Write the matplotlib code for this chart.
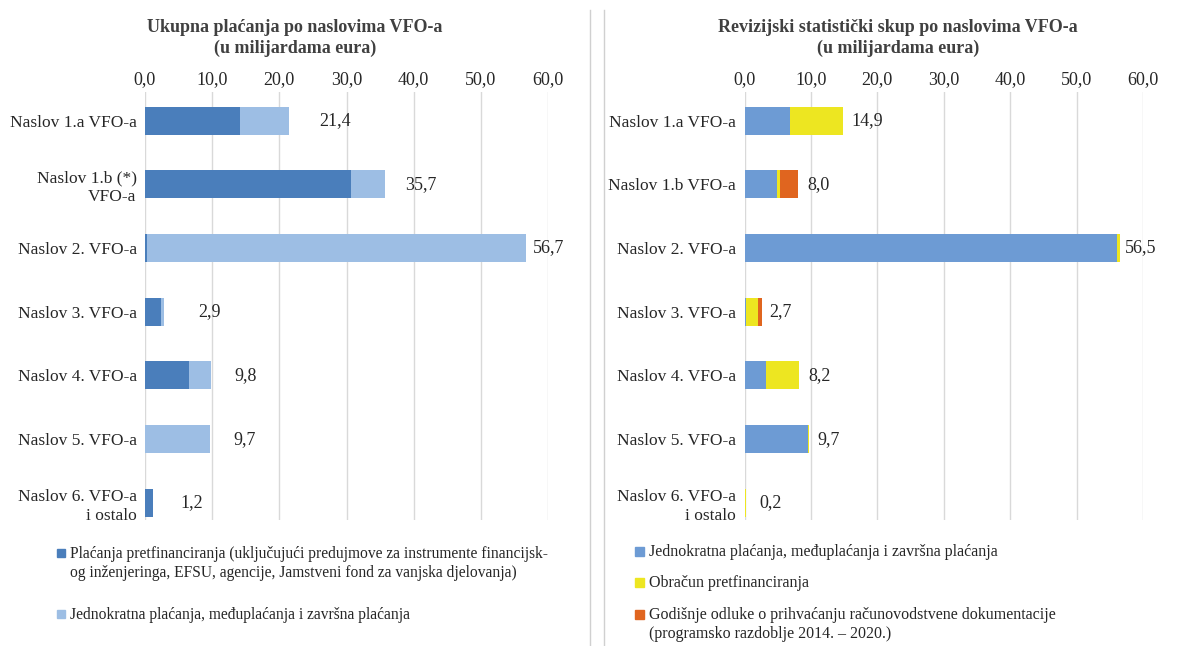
import numpy as np
import matplotlib.pyplot as plt
from matplotlib.lines import Line2D
from matplotlib.patches import Rectangle

plt.rcParams['font.family'] = ['Liberation Serif', 'DejaVu Serif']

kategorije_l = ['Naslov 1.a VFO-a', 'Naslov 1.b (*)\nVFO-a', 'Naslov 2. VFO-a', 'Naslov 3. VFO-a',
                'Naslov 4. VFO-a', 'Naslov 5. VFO-a', 'Naslov 6. VFO-a\ni ostalo']
kategorije_r = ['Naslov 1.a VFO-a', 'Naslov 1.b VFO-a', 'Naslov 2. VFO-a', 'Naslov 3. VFO-a',
                'Naslov 4. VFO-a', 'Naslov 5. VFO-a', 'Naslov 6. VFO-a\ni ostalo']

# lijevi graf: ukupna placanja
pretfin = [14.2, 30.6, 0.3, 2.4, 6.5, 0.0, 1.2]
jednokratna = [7.2, 5.1, 56.4, 0.5, 3.3, 9.7, 0.0]
ukupno_l = [21.4, 35.7, 56.7, 2.9, 9.8, 9.7, 1.2]

# desni graf: revizijski statisticki skup
jednokratna_r = [6.9, 4.9, 56.1, 0.2, 3.2, 9.6, 0.0]
obracun = [8.0, 0.4, 0.4, 1.9, 5.0, 0.1, 0.2]
godisnje = [0.0, 2.7, 0.0, 0.6, 0.0, 0.0, 0.0]
ukupno_r = [14.9, 8.0, 56.5, 2.7, 8.2, 9.7, 0.2]

ticks = [0, 10, 20, 30, 40, 50, 60]

legenda_l = ['Plaćanja pretfinanciranja (uključujući predujmove za instrumente financijsk-\n'
             'og inženjeringa, EFSU, agencije, Jamstveni fond za vanjska djelovanja)',
             'Jednokratna plaćanja, međuplaćanja i završna plaćanja']
legenda_r = ['Jednokratna plaćanja, međuplaćanja i završna plaćanja',
             'Obračun pretfinanciranja',
             'Godišnje odluke o prihvaćanju računovodstvene dokumentacije\n'
             '(programsko razdoblje 2014. – 2020.)']

TAMNO = '#4a7ebb'
SVIJETLO = '#9dbee4'
PLAVA = '#6d9bd4'
ZUTA = '#ede621'
NARANCA = '#e0651f'
GRID = '#d9d9d9'
TEKST = '#262626'

W, H = 1192, 646
fig = plt.figure(figsize=(W/100, H/100), dpi=100)

ax1 = fig.add_axes([145/W, 1-520/H, 403/W, 428/H])
ax2 = fig.add_axes([744.5/W, 1-520/H, 398.5/W, 428/H])

y = np.arange(len(kategorije_l))
h = 0.44


def uredi_os(ax, kategorije):
    ax.set_xlim(0, 60)
    ax.set_ylim(6.27, -0.45)
    ax.set_xticks(ticks)
    ax.set_xticklabels([f'{t:.1f}'.replace('.', ',') for t in ticks], fontsize=13, color=TEKST)
    ax.xaxis.tick_top()
    ax.tick_params(axis='x', length=0, pad=3)
    ax.tick_params(axis='y', length=0, pad=6)
    ax.set_yticks(y)
    ax.set_yticklabels(kategorije, fontsize=12.5, color=TEKST, linespacing=1.25)
    ax.grid(axis='x', color=GRID, linewidth=1)
    ax.set_axisbelow(True)
    for s in ax.spines.values():
        s.set_visible(False)


uredi_os(ax1, kategorije_l)
uredi_os(ax2, kategorije_r)

ax1.barh(y, pretfin, h, color=TAMNO)
ax1.barh(y, jednokratna, h, left=pretfin, color=SVIJETLO)

lijevo2 = np.array(jednokratna_r)
lijevo3 = lijevo2 + np.array(obracun)
ax2.barh(y, jednokratna_r, h, color=PLAVA)
ax2.barh(y, obracun, h, left=lijevo2, color=ZUTA)
ax2.barh(y, godisnje, h, left=lijevo3, color=NARANCA)

odmak_l = [22, 15, 5, 24, 17, 17, 20]
odmak_r = [6, 7, 4, 5, 7, 6, 10]
for i, v in enumerate(ukupno_l):
    ax1.annotate(f'{v:.1f}'.replace('.', ','), (v, i), xytext=(odmak_l[i], 0),
                 textcoords='offset points', va='center', ha='left', fontsize=13, color=TEKST)
for i, v in enumerate(ukupno_r):
    ax2.annotate(f'{v:.1f}'.replace('.', ','), (v, i), xytext=(odmak_r[i], 0),
                 textcoords='offset points', va='center', ha='left', fontsize=13, color=TEKST)

fig.text(295/W, 1-38/H, 'Ukupna plaćanja po naslovima VFO-a\n(u milijardama eura)',
         ha='center', va='center', fontsize=13, fontweight='bold', color='#404040', linespacing=1.3)
fig.text(898/W, 1-38/H, 'Revizijski statistički skup po naslovima VFO-a\n(u milijardama eura)',
         ha='center', va='center', fontsize=13, fontweight='bold', color='#404040', linespacing=1.3)


# legende (rucno, kvadrat poravnat s prvim retkom)
def legenda(x, ys, boje, tekstovi, vel, kv, ls):
    for yy, boja, txt in zip(ys, boje, tekstovi):
        fig.add_artist(Rectangle((x/W, 1-(yy+kv/2)/H), kv/W, kv/H, color=boja,
                                 transform=fig.transFigure))
        fig.text((x+kv+5)/W, 1-(yy-vel*0.6)/H, txt, ha='left', va='top',
                 fontsize=vel, color=TEKST, linespacing=ls)


legenda(57, [553, 614], [TAMNO, SVIJETLO], legenda_l, 11.2, 8, 1.25)
legenda(635, [551, 582, 614], [PLAVA, ZUTA, NARANCA], legenda_r, 11.5, 9, 1.2)

# okviri panela
fig.add_artist(Line2D([590/W, 590/W], [0, 1-10/H], color='#d0d0d0', lw=1))
fig.add_artist(Line2D([604/W, 604/W], [0, 1-10/H], color='#d0d0d0', lw=1))

fig.savefig('out.png', dpi=100)
